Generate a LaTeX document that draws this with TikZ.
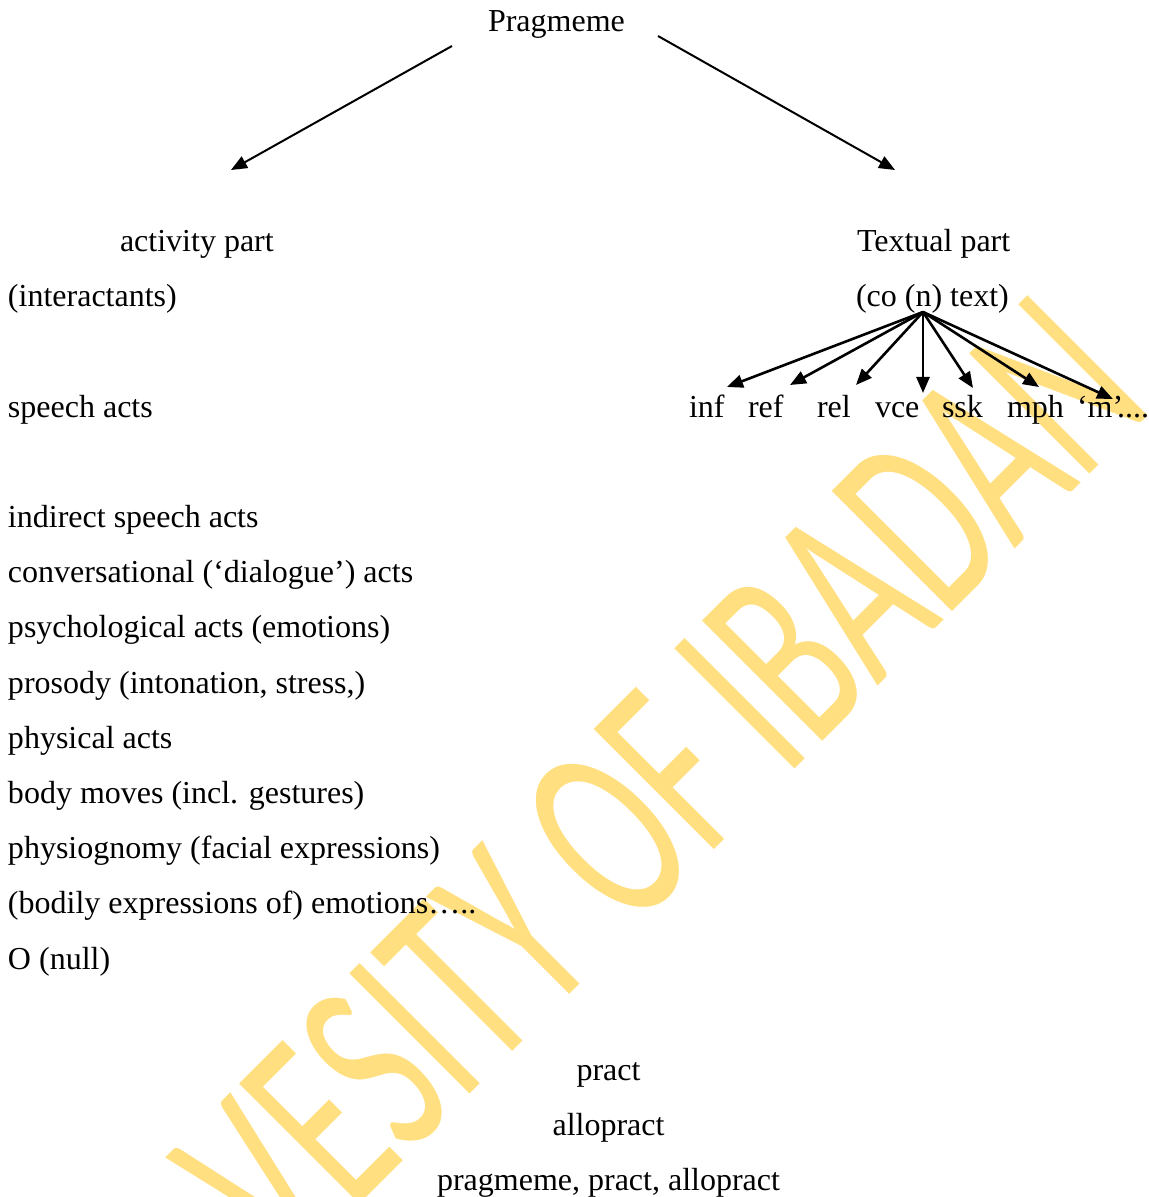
\documentclass[tikz,border=0pt]{standalone}
\usepackage{fontspec}
\setmainfont{Liberation Serif}
\newfontfamily\wmfont{Carlito}
\usetikzlibrary{arrows.meta}
\definecolor{wmyellow}{RGB}{255,223,128}
\begin{document}
\begin{tikzpicture}[x=0.5pt,y=-0.5pt,
  txt/.style={inner sep=0pt, outer sep=0pt, anchor=base west, font=\fontsize{16}{19}\selectfont},
  ctxt/.style={txt, anchor=base},
  arr/.style={line width=1pt, -{Triangle[length=8pt,width=6.5pt]}},
  arrb/.style={arr, line width=1.3pt},
  wm/.style={inner sep=0pt, outer sep=0pt, anchor=base west, rotate=45, text=wmyellow, font=\wmfont\fontsize{132.5}{140}\selectfont}]
\useasboundingbox (0,0) rectangle (1148,1197);
% watermark
\begin{scope}
\clip (0,0) rectangle (1148,1197);
\node[wm] (wmark) at (786,778) {\scalebox{0.62}[1]{\llap{VESITY OF }IBADAN}};
\end{scope}
% top
\node[txt] (prag) at (488,31.5) {Pragmeme};
\node[txt] (act) at (120,252) {activity part};
\node[txt] (textual) at (857,252) {Textual part};
\node[txt] (inter) at (8,307) {(interactants)};
\node[txt] (cotext) at (856,307) {(co (n) text)};
\node[txt] (speech) at (8,417) {speech acts};
% textual sub items
\node[txt] (inf) at (689,417) {inf};
\node[txt] (ref) at (748,417) {ref};
\node[txt] (rel) at (817,417) {rel};
\node[txt] (vce) at (875,417) {vce};
\node[txt] (ssk) at (942,417) {ssk};
\node[txt] (mph) at (1007,417) {mph};
\node[txt] (mq) at (1077,417) {‘m’};
\node[txt] (dots) at (1117,417) {....};
% left list
\node[txt] (l1) at (8,527.4) {indirect speech acts};
\node[txt] (l2) at (8,582.6) {conversational (‘dialogue’) acts};
\node[txt] (l3) at (8,637.8) {psychological acts (emotions)};
\node[txt] (l4) at (8,693) {prosody (intonation, stress,)};
\node[txt] (l5) at (8,748.2) {physical acts};
\node[txt] (l6) at (8,803.4) {body moves (incl. gestures)};
\node[txt] (l7) at (8,858.6) {physiognomy (facial expressions)};
\node[txt] (l8) at (8,913.8) {(bodily expressions of) emotions…..};
\node[txt] (l9) at (8,969) {O (null)};
% bottom
\node[ctxt] (b1) at (608.5,1080) {pract};
\node[ctxt] (b2) at (608.5,1135) {allopract};
\node[ctxt] (b3) at (608.5,1190) {pragmeme, pract, allopract};
% connectors from Pragmeme
\coordinate (pl) at (452,46);
\coordinate (pr) at (658,36);
\coordinate (tl) at (231,170);
\coordinate (tr) at (895,170);
\draw[arr] (pl) -- (tl);
\draw[arr] (pr) -- (tr);
% connectors from (co (n) text)
\coordinate (src) at (923,312);
\coordinate (tinf) at (727,387);
\coordinate (tref) at (790,385);
\coordinate (trel) at (856,385);
\coordinate (tvce) at (923,393);
\coordinate (tssk) at (973,388);
\coordinate (tmph) at (1039,387);
\coordinate (tmq) at (1113,399);
\foreach \t in {tinf,tref,trel,tvce,tssk,tmph,tmq}
  \draw[arrb] (src) -- (\t);
\end{tikzpicture}
\end{document}
